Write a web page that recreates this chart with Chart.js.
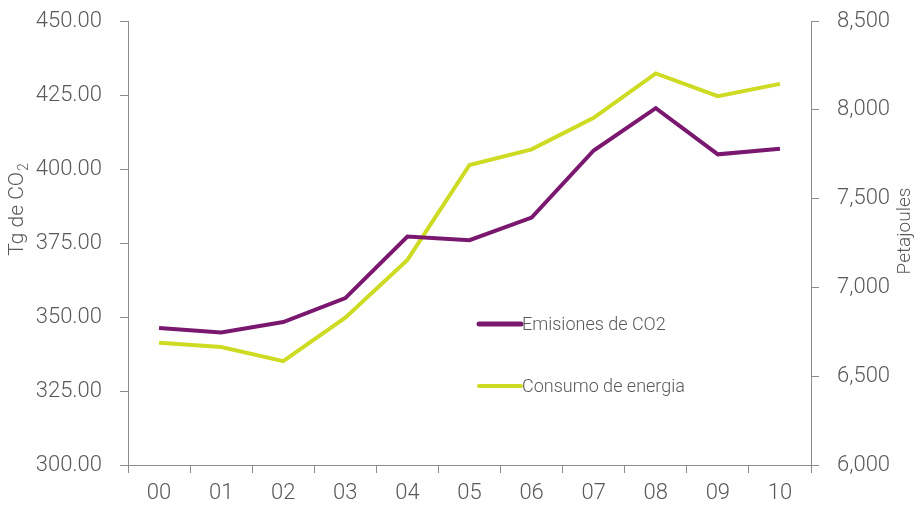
<!DOCTYPE html>
<html>
<head>
<meta charset="utf-8">
<script src="https://cdn.jsdelivr.net/npm/chart.js@4.4.1/dist/chart.umd.min.js"></script>
<style>
  html, body { margin: 0; padding: 0; background: #fff; overflow: hidden; }
  #frame { width: 920px; height: 508px; overflow: hidden; }
  /* canvas is 10px taller and pulled up so the plot top lands at y=20 */
  #wrap { width: 920px; height: 518px; margin-top: -10px; }
</style>
</head>
<body>
<div id="frame"><div id="wrap"><canvas id="chart"></canvas></div></div>
<script>
// --- data ---
const years = ['00', '01', '02', '03', '04', '05', '06', '07', '08', '09', '10'];
const co2Emissions = [346.3, 344.8, 348.3, 356.4, 377.2, 376.0, 383.6, 406.3, 420.6, 405.0, 406.9];
const energyUse = [6688, 6665, 6585, 6830, 7155, 7690, 7778, 7956, 8206, 8078, 8147];
const leftTicks = [300, 325, 350, 375, 400, 425, 450];
const rightTicks = [6000, 6500, 7000, 7500, 8000, 8500];

const purple = '#7a1870';
const lime = '#cddb22';
const axisGray = '#8c8c8c';
const textGray = '#595959';
const font = "Roboto, 'Liberation Sans', sans-serif";
const shift = 10;

// rotated axis titles (reads bottom-to-top on both sides)
const axisTitles = {
  id: 'axisTitles',
  afterDraw(chart) {
    const ctx = chart.ctx;
    ctx.save();
    ctx.fillStyle = textGray;
    ctx.textBaseline = 'middle';

    // left: "Tg de CO2" with subscript
    ctx.translate(18, 210 + shift);
    ctx.rotate(-Math.PI / 2);
    ctx.font = `300 21px ${font}`;
    const main = 'Tg de CO';
    const w = ctx.measureText(main).width;
    ctx.font = `300 14px ${font}`;
    const sw = ctx.measureText('2').width;
    const start = -(w + sw) / 2;
    ctx.font = `300 21px ${font}`;
    ctx.textAlign = 'left';
    ctx.fillText(main, start, 0);
    ctx.font = `300 14px ${font}`;
    ctx.fillText('2', start + w + 1, 6);
    ctx.restore();

    ctx.save();
    ctx.fillStyle = textGray;
    ctx.textBaseline = 'middle';
    ctx.textAlign = 'center';
    ctx.translate(905, 231 + shift);
    ctx.rotate(-Math.PI / 2);
    ctx.font = `300 19px ${font}`;
    ctx.fillText('Petajoules', 0, 0);
    ctx.restore();
  }
};

// legend inside the plot area
const insideLegend = {
  id: 'insideLegend',
  afterDraw(chart) {
    const ctx = chart.ctx;
    const rows = [324 + shift, 386 + shift];
    ctx.save();
    chart.data.datasets.forEach((ds, i) => {
      const y = rows[i];
      ctx.strokeStyle = ds.borderColor;
      ctx.lineWidth = i === 0 ? 5 : 4;
      ctx.lineCap = 'round';
      ctx.beginPath();
      ctx.moveTo(479, y);
      ctx.lineTo(521, y);
      ctx.stroke();
      ctx.fillStyle = textGray;
      ctx.font = `300 18px ${font}`;
      ctx.textAlign = 'left';
      ctx.textBaseline = 'middle';
      ctx.fillText(ds.label, 522, y + 1);
    });
    ctx.restore();
  }
};

const tickFont = { family: font, size: 22, weight: 300 };

new Chart(document.getElementById('chart'), {
  type: 'line',
  data: {
    labels: years,
    datasets: [
      {
        label: 'Emisiones de CO2',
        data: co2Emissions,
        yAxisID: 'y',
        borderColor: purple,
        backgroundColor: purple,
        borderWidth: 4,
        pointRadius: 0,
        tension: 0
      },
      {
        label: 'Consumo de energia',
        data: energyUse,
        yAxisID: 'y1',
        borderColor: lime,
        backgroundColor: lime,
        borderWidth: 4,
        pointRadius: 0,
        tension: 0
      }
    ]
  },
  options: {
    responsive: true,
    maintainAspectRatio: false,
    animation: false,
    layout: { padding: { top: 10, left: 0, right: 0, bottom: 0 } },
    plugins: {
      legend: { display: false },
      tooltip: { enabled: false }
    },
    scales: {
      x: {
        offset: true,
        grid: { offset: true, drawOnChartArea: false, drawTicks: true, tickLength: 8, color: axisGray },
        border: { color: axisGray },
        ticks: { font: tickFont, color: textGray, padding: 7, maxRotation: 0 },
        afterFit(scale) { scale.height = 43; }
      },
      y: {
        position: 'left',
        min: 300,
        max: 450,
        afterBuildTicks(scale) { scale.ticks = leftTicks.map(v => ({ value: v })); },
        grid: { drawOnChartArea: false, tickLength: 8, color: axisGray },
        border: { color: axisGray },
        ticks: { font: tickFont, color: textGray, padding: 18, callback: v => Number(v).toFixed(2) },
        afterFit(scale) { scale.width = 128; }
      },
      y1: {
        position: 'right',
        min: 6000,
        max: 8500,
        afterBuildTicks(scale) { scale.ticks = rightTicks.map(v => ({ value: v })); },
        grid: { drawOnChartArea: false, tickLength: 8, color: axisGray },
        border: { color: axisGray },
        ticks: { font: tickFont, color: textGray, padding: 18, callback: v => Number(v).toLocaleString('en-US') },
        afterFit(scale) { scale.width = 109; }
      }
    }
  },
  plugins: [axisTitles, insideLegend]
});
</script>
</body>
</html>
